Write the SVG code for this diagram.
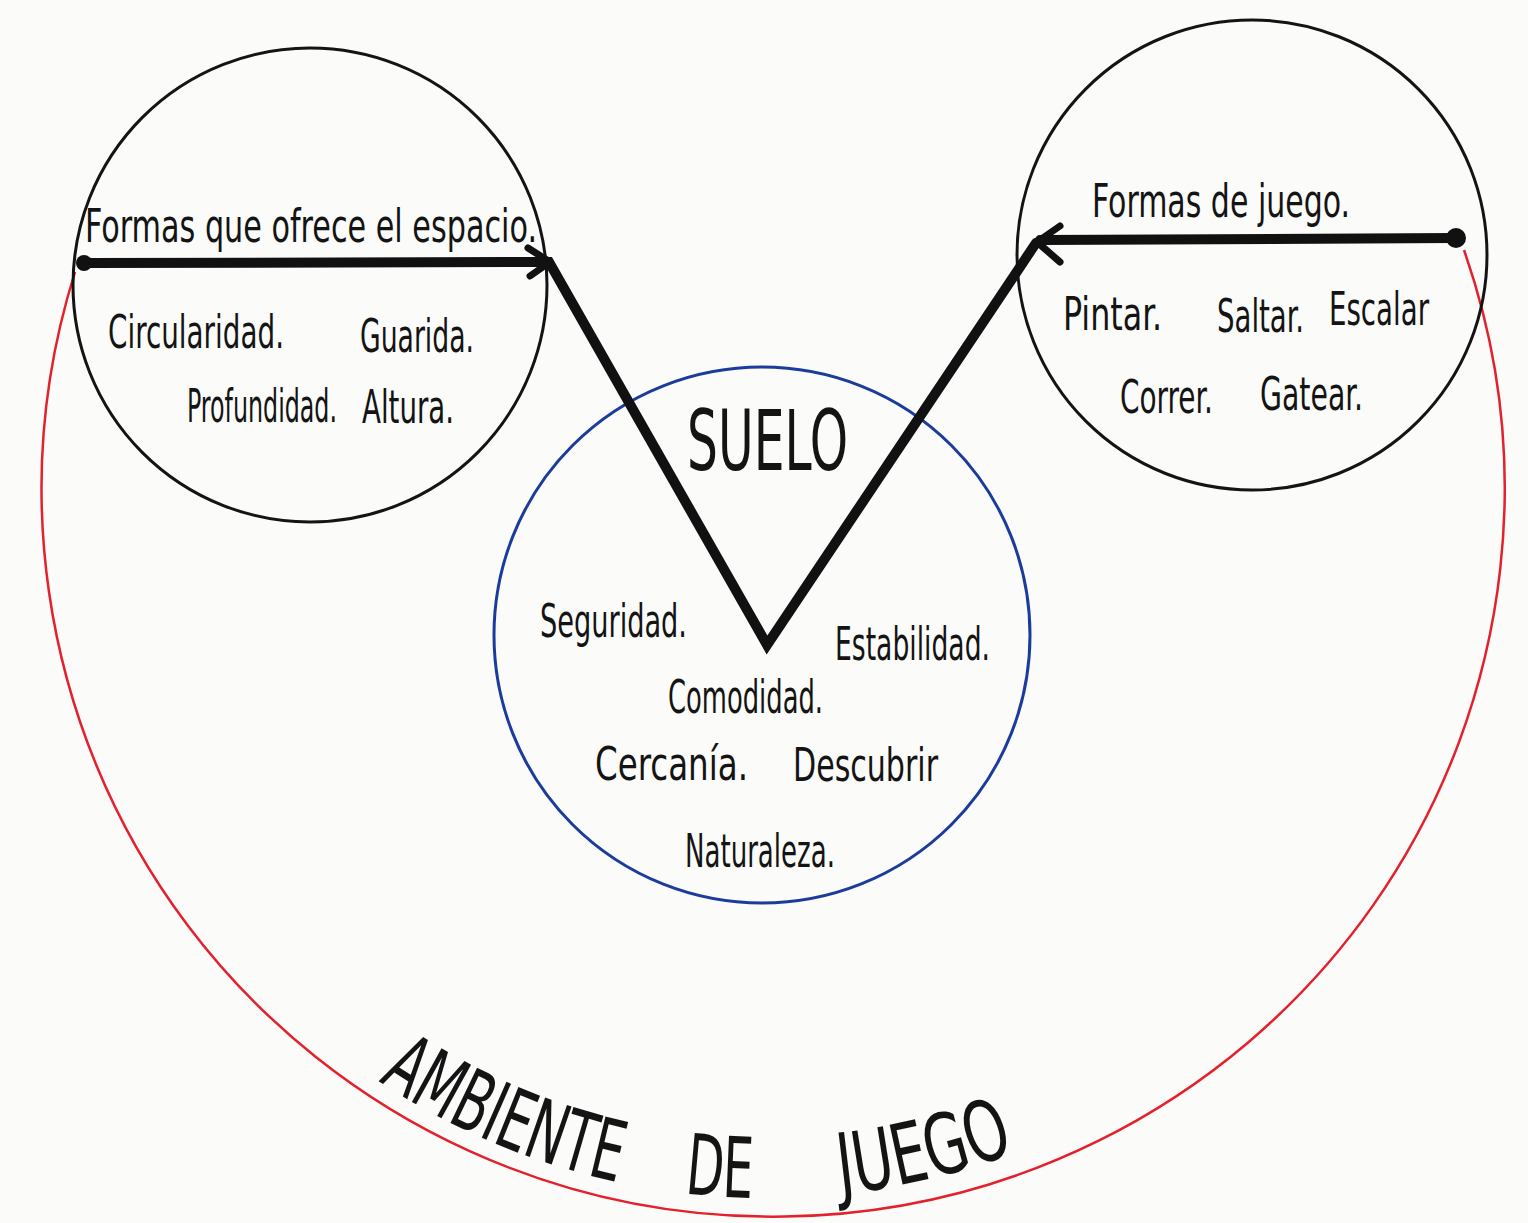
<svg xmlns="http://www.w3.org/2000/svg" width="1528" height="1223" viewBox="0 0 1528 1223">
<style>
.hw{font-family:"Liberation Sans Narrow","DejaVu Sans Condensed","Liberation Sans",sans-serif;fill:#141414}
.t{font-size:46px}
.cap{font-size:84px}
.ring{fill:none;stroke:#141414;stroke-width:3}
.thick{fill:none;stroke:#111;stroke-width:10;stroke-linecap:round;stroke-linejoin:miter}
.barb{fill:none;stroke:#111;stroke-width:7;stroke-linecap:round;stroke-linejoin:round}
</style>
<defs>
<path id="titleArc" d="M 316 1034.2 A 700 700 0 0 0 1216 1034.2"/>
</defs>
<rect x="0" y="0" width="1528" height="1223" fill="#fbfbfa"/>

<g id="ambiente">
<path d="M 75 272 A 731.5 727.5 0 1 0 1464 250" fill="none" stroke="#e3202b" stroke-width="2.5"/>
<text class="hw cap"><textPath href="#titleArc" startOffset="78" textLength="261" lengthAdjust="spacingAndGlyphs">AMBIENTE</textPath></text>
<text class="hw cap"><textPath href="#titleArc" startOffset="407" textLength="68" lengthAdjust="spacingAndGlyphs">DE</textPath></text>
<text class="hw cap"><textPath href="#titleArc" startOffset="563" textLength="181" lengthAdjust="spacingAndGlyphs">JUEGO</textPath></text>
</g>

<g id="formas-espacio">
<circle class="ring" cx="310" cy="285" r="237"/>
<text class="hw t" x="85" y="242" textLength="452" lengthAdjust="spacingAndGlyphs">Formas que ofrece el espacio.</text>
<text class="hw t" x="108" y="348" textLength="176" lengthAdjust="spacingAndGlyphs">Circularidad.</text>
<text class="hw t" x="360" y="352" textLength="114" lengthAdjust="spacingAndGlyphs">Guarida.</text>
<text class="hw t" x="187" y="422" textLength="150" lengthAdjust="spacingAndGlyphs">Profundidad.</text>
<text class="hw t" x="362" y="423" textLength="92" lengthAdjust="spacingAndGlyphs">Altura.</text>
</g>

<g id="formas-juego">
<circle class="ring" cx="1252" cy="255" r="235"/>
<text class="hw t" x="1092" y="217" textLength="258" lengthAdjust="spacingAndGlyphs">Formas de juego.</text>
<text class="hw t" x="1063" y="330" textLength="99" lengthAdjust="spacingAndGlyphs">Pintar.</text>
<text class="hw t" x="1217" y="332" textLength="87" lengthAdjust="spacingAndGlyphs">Saltar.</text>
<text class="hw t" x="1329" y="325" textLength="100" lengthAdjust="spacingAndGlyphs">Escalar</text>
<text class="hw t" x="1120" y="413" textLength="93" lengthAdjust="spacingAndGlyphs">Correr.</text>
<text class="hw t" x="1260" y="410" textLength="103" lengthAdjust="spacingAndGlyphs">Gatear.</text>
</g>

<g id="suelo">
<circle cx="762" cy="635" r="268" fill="none" stroke="#1c3c9c" stroke-width="3"/>
<text class="hw cap" x="687" y="470" textLength="161" lengthAdjust="spacingAndGlyphs">SUELO</text>
<text class="hw t" x="540" y="637" textLength="147" lengthAdjust="spacingAndGlyphs">Seguridad.</text>
<text class="hw t" x="835" y="660" textLength="155" lengthAdjust="spacingAndGlyphs">Estabilidad.</text>
<text class="hw t" x="668" y="713" textLength="155" lengthAdjust="spacingAndGlyphs">Comodidad.</text>
<text class="hw t" x="595" y="780" textLength="153" lengthAdjust="spacingAndGlyphs">Cercanía.</text>
<text class="hw t" x="793" y="781" textLength="145" lengthAdjust="spacingAndGlyphs">Descubrir</text>
<text class="hw t" x="685" y="867" textLength="150" lengthAdjust="spacingAndGlyphs">Naturaleza.</text>
</g>

<g id="connectors">
<polyline class="thick" points="84,263 549,262 767,645 1036,243"/>
<line class="thick" x1="1040" y1="240" x2="1455" y2="238"/>
<circle cx="84" cy="263" r="8" fill="#111"/>
<circle cx="1456" cy="238" r="10" fill="#111"/>
<polyline class="barb" points="528,248 550,262 530,276"/>
<polyline class="barb" points="1060,226 1037,242 1060,262"/>
</g>
</svg>
